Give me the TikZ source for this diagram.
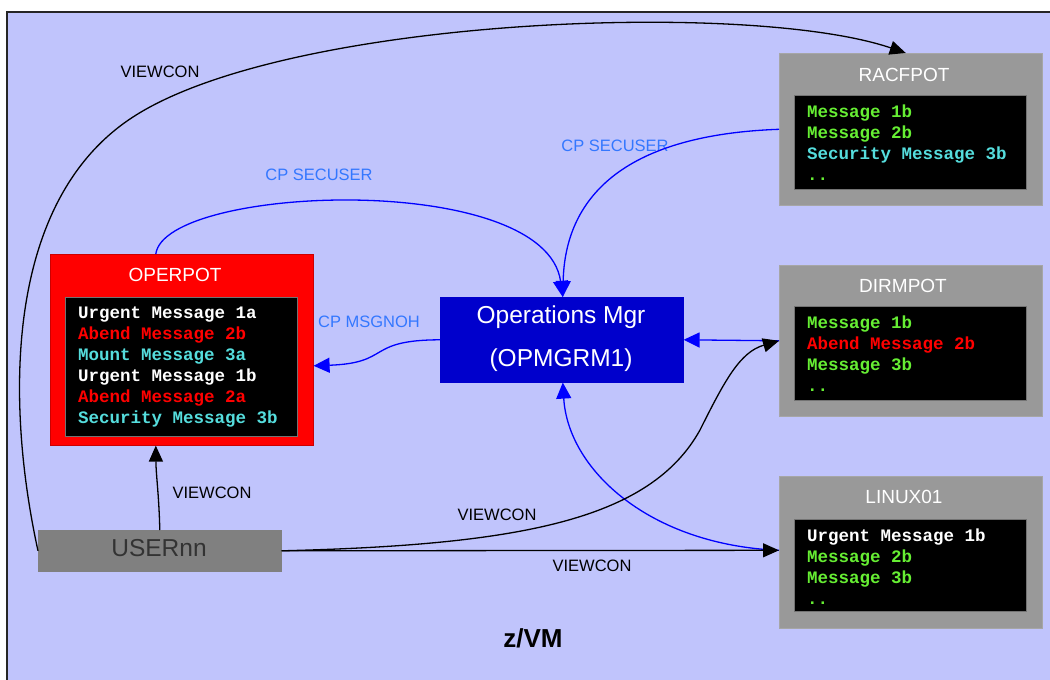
\documentclass[tikz,border=0pt]{standalone}
\usepackage{fontspec}
\setmainfont{Liberation Sans}
\setmonofont{Liberation Mono}
\usetikzlibrary{arrows.meta}
\definecolor{bgl}{RGB}{192,196,252}
\definecolor{potgray}{RGB}{153,153,153}
\definecolor{usergray}{RGB}{128,128,128}
\definecolor{opsblue}{RGB}{0,0,204}
\definecolor{cblue}{RGB}{0,0,255}
\definecolor{lblue}{RGB}{51,119,255}
\definecolor{mgreen}{RGB}{102,238,51}
\definecolor{mcyan}{RGB}{85,221,221}
\definecolor{mred}{RGB}{255,0,0}
\definecolor{mwhite}{RGB}{255,255,255}
\begin{document}
\begin{tikzpicture}[x=1pt,y=-1pt,
  potbox/.style={draw=black!35, line width=0.6pt, anchor=north west, inner sep=0pt},
  screen/.style={fill=black, draw=black!55, line width=0.6pt, anchor=north west, inner sep=0pt},
  ptitle/.style={text=white, font=\fontsize{19}{22}\selectfont, inner sep=0pt},
  msgs/.style={anchor=base west, align=left, inner sep=0pt, font=\ttfamily\bfseries\fontsize{17.5}{21}\selectfont},
  lbl/.style={font=\fontsize{16.5}{19}\selectfont, inner sep=0pt},
  blk/.style={draw=black, line width=1.3pt, -{Triangle[length=16pt,width=14pt]}},
  blu/.style={draw=cblue, line width=1.3pt, -{Triangle[length=16pt,width=15pt]}}]
\useasboundingbox (0,0) rectangle (1050,680);
\fill[white] (0,0) rectangle (1050,680);
\begin{scope}
\clip (0,0) rectangle (1050,680);
\draw[fill=bgl, draw=black!85, line width=1.6pt] (7,12) rectangle (1070,700);
\end{scope}

% RACFPOT
\node[potbox, fill=potgray, minimum width=263pt, minimum height=152pt] (racf) at (779,53) {};
\node[screen, minimum width=232pt, minimum height=94pt] (racfscr) at (794,95) {};
\node[ptitle] (racft) at (904,74.5) {RACFPOT};
\node[msgs] (racfm) at (807,180) {\textcolor{mgreen}{Message 1b}\\\textcolor{mgreen}{Message 2b}\\\textcolor{mcyan}{Security Message 3b}\\\textcolor{mgreen}{..}};

% DIRMPOT
\node[potbox, fill=potgray, minimum width=263pt, minimum height=151pt] (dirm) at (779,265) {};
\node[screen, minimum width=232pt, minimum height=94pt] (dirmscr) at (794,306) {};
\node[ptitle] (dirmt) at (903,286) {DIRMPOT};
\node[msgs] (dirmm) at (807,391) {\textcolor{mgreen}{Message 1b}\\\textcolor{mred}{Abend Message 2b}\\\textcolor{mgreen}{Message 3b}\\\textcolor{mgreen}{..}};

% LINUX01
\node[potbox, fill=potgray, minimum width=263pt, minimum height=152pt] (linux) at (779,476) {};
\node[screen, minimum width=232pt, minimum height=92pt] (linuxscr) at (794,519) {};
\node[ptitle] (linuxt) at (904,497) {LINUX01};
\node[msgs] (linuxm) at (807,604) {\textcolor{mwhite}{Urgent Message 1b}\\\textcolor{mgreen}{Message 2b}\\\textcolor{mgreen}{Message 3b}\\\textcolor{mgreen}{..}};

% OPERPOT
\node[potbox, fill=red, draw=red!80!black, minimum width=263pt, minimum height=191pt] (oper) at (50,254) {};
\node[screen, minimum width=232pt, minimum height=139pt] (operscr) at (65,297) {};
\node[ptitle] (opert) at (175,275) {OPERPOT};
\node[msgs] (operm) at (78,423) {\textcolor{mwhite}{Urgent Message 1a}\\\textcolor{mred}{Abend Message 2b}\\\textcolor{mcyan}{Mount Message 3a}\\\textcolor{mwhite}{Urgent Message 1b}\\\textcolor{mred}{Abend Message 2a}\\\textcolor{mcyan}{Security Message 3b}};

% Operations Mgr
\node[potbox, fill=opsblue, draw=opsblue, minimum width=243pt, minimum height=85pt] (ops) at (440,297) {};
\node[text=white, font=\fontsize{24.5}{28}\selectfont, inner sep=0pt] (opst1) at (561,317) {Operations Mgr};
\node[text=white, font=\fontsize{24.5}{28}\selectfont, inner sep=0pt] (opst2) at (561,360) {(OPMGRM1)};

% USERnn
\node[potbox, fill=usergray, draw=usergray, minimum width=243pt, minimum height=41pt] (user) at (38,530) {};
\node[text=black!80, font=\fontsize{24.5}{28}\selectfont, inner sep=0pt] (usert) at (159,548) {USERnn};

% labels
\node[lbl] (l1) at (160,72) {VIEWCON};
\node[lbl, text=lblue] (l2) at (319,175) {CP SECUSER};
\node[lbl, text=lblue] (l3) at (615,146) {CP SECUSER};
\node[lbl, text=lblue] (l4) at (369,322) {CP MSGNOH};
\node[lbl] (l5) at (212,493) {VIEWCON};
\node[lbl] (l6) at (497,515) {VIEWCON};
\node[lbl] (l7) at (592,566) {VIEWCON};
\node[font=\bfseries\fontsize{26}{30}\selectfont, inner sep=0pt] (zvm) at (533,638) {z/VM};

% connectors
\draw[blk] (user.west) .. controls (5,400) and (5,200) .. (133,117) .. controls (287,17) and (750,0) .. ([xshift=-5pt]racf.north);
\draw[blu] ([xshift=-26pt]oper.north) .. controls (165,185) and (545,170) .. ([xshift=1pt]ops.north);
\draw[blu] (racf.west) .. controls (620,135) and (565,200) .. ([xshift=1pt]ops.north);
\draw[blu] (ops.west) .. controls (365,340) and (392,363) .. ([yshift=-16pt]oper.east);
\draw[blu] (dirm.west) -- (ops.east);
\draw[blu] ([yshift=2pt]linux.west) .. controls (650,545) and (568,470) .. ([xshift=1pt]ops.south);
\draw[blk] (user.north) .. controls (159,495) and (156,475) .. ([xshift=-26pt]oper.south);
\draw[blk] (user.east) .. controls (520,545) and (650,520) .. (700,430) .. controls (725,380) and (740,352) .. (dirm.west);
\draw[blk] (user.east) -- ([yshift=2pt]linux.west);
\end{tikzpicture}
\end{document}
